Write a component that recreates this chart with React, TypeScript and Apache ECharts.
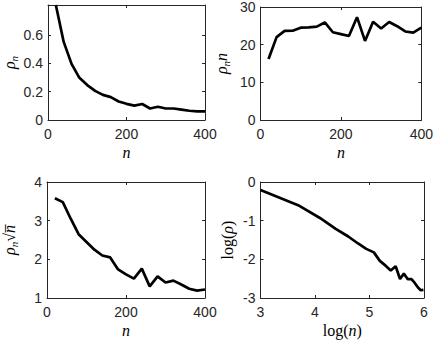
import React, { useEffect, useRef } from 'react';
import * as echarts from 'echarts';

const nValues = [20, 40, 60, 80, 100, 120, 140, 160, 180, 200, 220, 240, 260, 280, 300, 320, 340, 360, 380, 400];
const rho = [0.81, 0.55, 0.395, 0.297, 0.246, 0.205, 0.177, 0.161, 0.13, 0.114, 0.101, 0.113, 0.081, 0.093, 0.081, 0.081, 0.073, 0.065, 0.061, 0.061];
const rhoTimesN = [16.2, 22.0, 23.65, 23.7, 24.5, 24.6, 24.8, 25.9, 23.3, 22.8, 22.3, 27.3, 21.0, 26.1, 24.3, 26.0, 24.9, 23.5, 23.2, 24.5];
const rhoTimesSqrtN = [3.58, 3.48, 3.05, 2.65, 2.45, 2.25, 2.1, 2.05, 1.74, 1.61, 1.5, 1.76, 1.3, 1.56, 1.4, 1.45, 1.35, 1.24, 1.19, 1.22];
const logN = [3.0, 3.69, 4.09, 4.38, 4.61, 4.79, 4.94, 5.08, 5.19, 5.3, 5.39, 5.48, 5.56, 5.63, 5.7, 5.77, 5.83, 5.89, 5.94, 5.99];
const logRho = [-0.21, -0.6, -0.93, -1.21, -1.41, -1.59, -1.73, -1.82, -2.04, -2.17, -2.29, -2.18, -2.51, -2.37, -2.51, -2.51, -2.61, -2.73, -2.8, -2.79];

const nTicks = [0, 200, 400];
const rhoTicks = [0, 0.2, 0.4, 0.6];
const rhoNTicks = [0, 10, 20, 30];
const rhoSqrtTicks = [1, 2, 3, 4];
const logNTicks = [3, 4, 5, 6];
const logRhoTicks = [-3, -2, -1, 0];

const AXIS_COLOR = '#262626';
const SANS = '"Liberation Sans", Arial, Helvetica, sans-serif';
const SERIF = '"Liberation Serif", "Times New Roman", serif';

const rich = {
  i: { fontFamily: SERIF, fontStyle: 'italic', fontSize: 16, color: '#000', lineHeight: 20, verticalAlign: 'middle' },
  r: { fontFamily: SERIF, fontStyle: 'normal', fontSize: 16, color: '#000', lineHeight: 20, verticalAlign: 'middle' },
  s: { fontFamily: SERIF, fontStyle: 'italic', fontSize: 11, color: '#000', lineHeight: 11, verticalAlign: 'bottom' },
};

export default function App() {
  const ref = useRef<HTMLDivElement>(null);
  useEffect(() => {
    const chart = echarts.init(ref.current!, null, { renderer: 'svg' });

    const grids = [
      { left: 42, top: 5, width: 163, height: 115 },
      { left: 260.5, top: 5, width: 163.5, height: 115 },
      { left: 42, top: 182, width: 163, height: 116 },
      { left: 260.5, top: 182, width: 163.5, height: 116 },
    ];

    const panels = [
      { xr: [0, 400], xt: nTicks, yr: [0, 0.81], yt: rhoTicks, xName: '{i|n}', yName: '{i|ρ}{s|n}', yGap: 29, xs: nValues, ys: rho },
      { xr: [0, 400], xt: nTicks, yr: [0, 30], yt: rhoNTicks, xName: '{i|n}', yName: '{i|ρ}{s|n}{i|n}', yGap: 29, xs: nValues, ys: rhoTimesN },
      { xr: [0, 400], xt: nTicks, yr: [1, 4], yt: rhoSqrtTicks, xName: '{i|n}', yName: '{i|ρ}{s|n}{r|√}{i|n\u0305}', yGap: 28, xs: nValues, ys: rhoTimesSqrtN },
      { xr: [3, 6], xt: logNTicks, yr: [-3, 0], yt: logRhoTicks, xName: '{r|log(}{i|n}{r|)}', yName: '{r|log(}{i|ρ}{r|)}', yGap: 23, xs: logN, ys: logRho },
    ];

    const xAxis: any[] = [];
    const yAxis: any[] = [];
    const series: any[] = [];

    panels.forEach((p, g) => {
      const common = (range: number[], ticks: number[]) => ({
        type: 'value',
        gridIndex: g,
        min: range[0],
        max: range[1],
        splitLine: { show: false },
        axisLine: { show: true, onZero: false, lineStyle: { color: AXIS_COLOR, width: 1 } },
        axisTick: { show: true, inside: true, length: 3, customValues: ticks, lineStyle: { color: AXIS_COLOR } },
      });
      xAxis.push({
        ...common(p.xr, p.xt),
        position: 'bottom',
        axisLabel: { show: true, customValues: p.xt, color: AXIS_COLOR, fontFamily: SANS, fontSize: 14, margin: 7 },
        name: p.xName,
        nameLocation: 'middle',
        nameGap: 22,
        nameTextStyle: { rich },
      });
      xAxis.push({
        ...common(p.xr, p.xt),
        position: 'top',
        axisLabel: { show: false },
      });
      yAxis.push({
        ...common(p.yr, p.yt),
        position: 'left',
        axisLabel: { show: true, customValues: p.yt, color: AXIS_COLOR, fontFamily: SANS, fontSize: 14, margin: 5 },
        name: p.yName,
        nameLocation: 'middle',
        nameGap: p.yGap,
        nameTextStyle: { rich },
      });
      yAxis.push({
        ...common(p.yr, p.yt),
        position: 'right',
        axisLabel: { show: false },
      });
      series.push({
        type: 'line',
        xAxisIndex: g * 2,
        yAxisIndex: g * 2,
        data: p.xs.map((x, k) => [x, p.ys[k]]),
        showSymbol: false,
        symbol: 'none',
        lineStyle: { color: '#000', width: 2.7 },
        clip: true,
      });
    });

    chart.setOption({
      animation: false,
      backgroundColor: '#fff',
      grid: grids,
      xAxis,
      yAxis,
      series,
    });
    return () => chart.dispose();
  }, []);
  return <div ref={ref} style={{ position: 'fixed', left: 0, top: 0, width: 436, height: 340, background: '#fff' }} />;
}
